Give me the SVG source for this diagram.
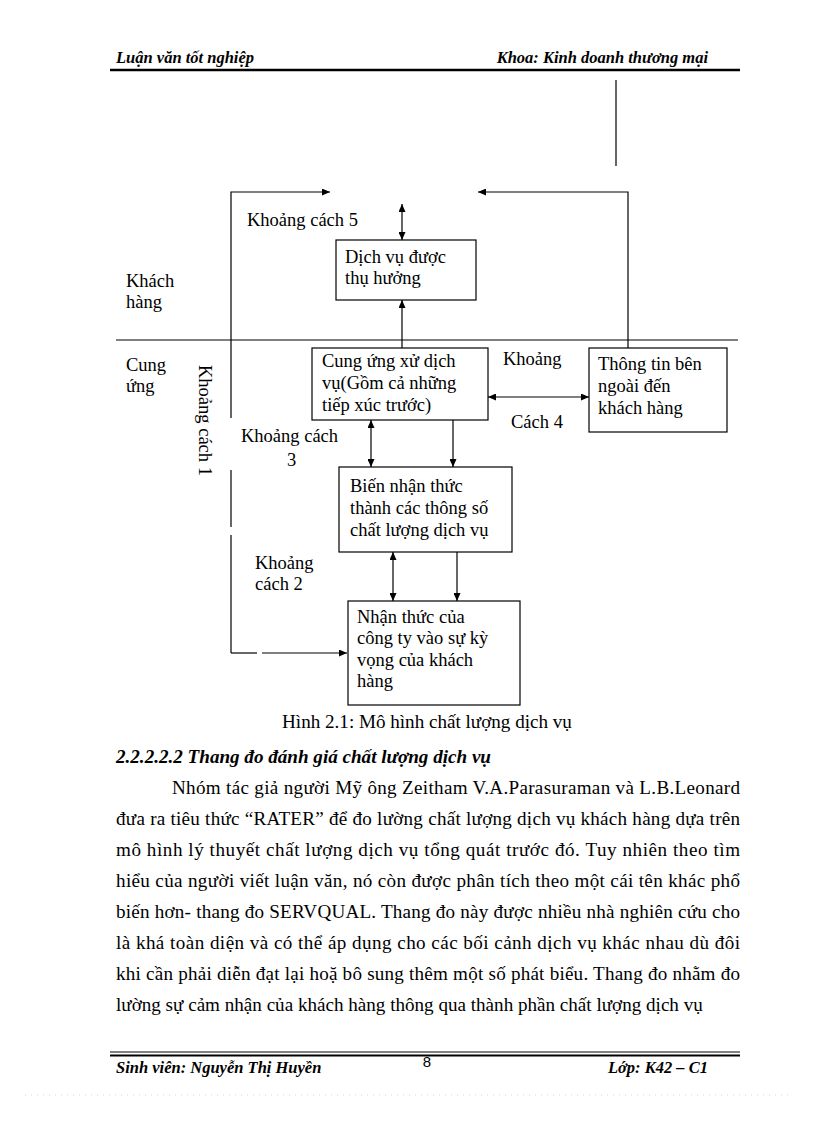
<svg xmlns="http://www.w3.org/2000/svg" width="816" height="1123" viewBox="0 0 816 1123">
<style>
.t{font-family:"Liberation Serif","Times New Roman",serif;font-size:18.5px;fill:#000}
.p{font-family:"Liberation Serif","Times New Roman",serif;font-size:19.1px;fill:#000}
.h{font-family:"Liberation Serif","Times New Roman",serif;font-size:16.5px;font-weight:bold;font-style:italic;fill:#000}
.box{fill:#fff;stroke:#000;stroke-width:1.2}
.ln{fill:none;stroke:#000;stroke-width:1.2}
</style>
<defs>
<marker id="arr" viewBox="0 0 8 7" refX="8" refY="3.5" markerWidth="8" markerHeight="7" markerUnits="userSpaceOnUse" orient="auto-start-reverse">
<path d="M0,0 L8,3.5 L0,7 z" fill="#000"/>
</marker>
</defs>
<rect width="816" height="1123" fill="#fff"/>

<g id="header">
<text class="h" x="116" y="63">Luận văn tốt nghiệp</text>
<text class="h" x="708" y="63" text-anchor="end">Khoa: Kinh doanh thương mại</text>
<line x1="110" y1="70" x2="740" y2="70" stroke="#000" stroke-width="2.5"/>
</g>

<g id="connectors">
<line class="ln" x1="616" y1="80" x2="616" y2="166"/>
<polyline class="ln" points="231,418 231,192 330,192" marker-end="url(#arr)"/>
<polyline class="ln" points="628,348 628,192 478,192" marker-end="url(#arr)"/>
<line class="ln" x1="231" y1="470" x2="231" y2="527"/>
<line class="ln" x1="231" y1="535" x2="231" y2="653"/>
<line class="ln" x1="231" y1="653" x2="257" y2="653"/>
<line class="ln" x1="262" y1="653" x2="347" y2="653" marker-end="url(#arr)"/>
<line x1="116" y1="340" x2="738" y2="340" stroke="#000" stroke-width="1.2"/>
<line class="ln" x1="402" y1="204" x2="402" y2="240" marker-start="url(#arr)" marker-end="url(#arr)"/>
<line class="ln" x1="402" y1="348" x2="402" y2="300" marker-end="url(#arr)"/>
<line class="ln" x1="488" y1="397" x2="589" y2="397" marker-start="url(#arr)" marker-end="url(#arr)"/>
<line class="ln" x1="371" y1="420" x2="371" y2="467" marker-start="url(#arr)" marker-end="url(#arr)"/>
<line class="ln" x1="453" y1="420" x2="453" y2="467" marker-end="url(#arr)"/>
<line class="ln" x1="393" y1="552" x2="393" y2="601" marker-start="url(#arr)" marker-end="url(#arr)"/>
<line class="ln" x1="457" y1="552" x2="457" y2="601" marker-end="url(#arr)"/>
</g>

<g id="labels">
<text class="t" x="247" y="226">Khoảng cách 5</text>
<text class="t" x="126" y="287">Khách</text>
<text class="t" x="126" y="308">hàng</text>
<text class="t" x="126" y="371">Cung</text>
<text class="t" x="126" y="392">ứng</text>
<text class="t" transform="translate(199,365) rotate(90)">Khoảng cách 1</text>
<text class="t" x="241" y="442">Khoảng cách</text>
<text class="t" x="287" y="466">3</text>
<text class="t" x="503" y="365">Khoảng</text>
<text class="t" x="511" y="428">Cách 4</text>
<text class="t" x="255" y="569">Khoảng</text>
<text class="t" x="255" y="590">cách 2</text>
</g>

<g id="node-dichvu">
<rect class="box" x="336" y="240" width="140" height="60"/>
<text class="t" x="345" y="263">Dịch vụ được</text>
<text class="t" x="345" y="284">thụ hưởng</text>
</g>

<g id="node-cungung">
<rect class="box" x="312" y="348" width="176" height="72"/>
<text class="t" x="322" y="367">Cung ứng xử dịch</text>
<text class="t" x="322" y="389">vụ(Gồm cả những</text>
<text class="t" x="322" y="411">tiếp xúc trước)</text>
</g>

<g id="node-thongtin">
<rect class="box" x="589" y="348" width="138" height="84"/>
<text class="t" x="598" y="370">Thông tin bên</text>
<text class="t" x="598" y="392">ngoài đến</text>
<text class="t" x="598" y="414">khách hàng</text>
</g>

<g id="node-bien">
<rect class="box" x="339" y="467" width="173" height="85"/>
<text class="t" x="350" y="492">Biến nhận thức</text>
<text class="t" x="350" y="514">thành các thông số</text>
<text class="t" x="350" y="536">chất lượng dịch vụ</text>
</g>

<g id="node-nhanthuc">
<rect class="box" x="348" y="601" width="172" height="104"/>
<text class="t" x="357" y="623">Nhận thức của</text>
<text class="t" x="357" y="644">công ty vào sự kỳ</text>
<text class="t" x="357" y="666">vọng của khách</text>
<text class="t" x="357" y="687">hàng</text>
</g>

<g id="body">
<text class="p" x="427" y="728" text-anchor="middle">Hình 2.1: Mô hình chất lượng dịch vụ</text>
<text class="p" x="116" y="763" font-weight="bold" font-style="italic">2.2.2.2.2 Thang đo đánh giá chất lượng dịch vụ</text>
<text class="p" x="172" y="794" textLength="568" lengthAdjust="spacing">Nhóm tác giả người Mỹ ông Zeitham V.A.Parasuraman và L.B.Leonard</text>
<text class="p" x="116" y="825" textLength="624" lengthAdjust="spacing">đưa ra tiêu thức “RATER” để đo lường chất lượng dịch vụ khách hàng dựa trên</text>
<text class="p" x="116" y="856" textLength="624" lengthAdjust="spacing">mô hình lý thuyết chất lượng dịch vụ tổng quát trước đó. Tuy nhiên theo tìm</text>
<text class="p" x="116" y="887" textLength="624" lengthAdjust="spacing">hiểu của người viết luận văn, nó còn được phân tích theo một cái tên khác phổ</text>
<text class="p" x="116" y="918" textLength="624" lengthAdjust="spacing">biến hơn- thang đo SERVQUAL. Thang đo này được nhiều nhà nghiên cứu cho</text>
<text class="p" x="116" y="949" textLength="624" lengthAdjust="spacing">là khá toàn diện và có thể áp dụng cho các bối cảnh dịch vụ khác nhau dù đôi</text>
<text class="p" x="116" y="980" textLength="624" lengthAdjust="spacing">khi cần phải diễn đạt lại hoặ bô sung thêm một số phát biểu. Thang đo nhằm đo</text>
<text class="p" x="116" y="1011">lường sự cảm nhận của khách hàng thông qua thành  phần chất lượng dịch vụ</text>
</g>

<g id="footer">
<line x1="110" y1="1052" x2="740" y2="1052" stroke="#000" stroke-width="1"/>
<line x1="110" y1="1055.5" x2="740" y2="1055.5" stroke="#000" stroke-width="2"/>
<text class="h" x="116" y="1073">Sinh viên: Nguyễn Thị Huyền</text>
<text x="427" y="1067" text-anchor="middle" font-family="Liberation Sans, Arial, sans-serif" font-size="15">8</text>
<text class="h" x="708" y="1073" text-anchor="end">Lớp: K42 – C1</text>
<line x1="25" y1="1095" x2="792" y2="1095" stroke="#bbb" stroke-width="0.6" stroke-dasharray="1,5"/>
</g>
</svg>
